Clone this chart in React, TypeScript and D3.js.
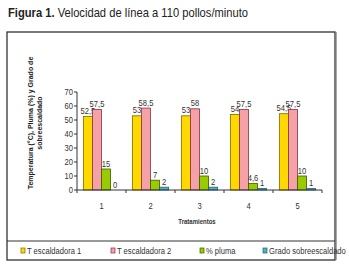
import React from "react";
import * as d3 from "d3";

const categories = ["1", "2", "3", "4", "5"];
const seriesNames = ["T escaldadora 1", "T escaldadora 2", "% pluma", "Grado sobreescaldado"];
const tEscaldadora1 = [52.5, 53, 53, 54, 54.5];
const tEscaldadora2 = [57.5, 58.5, 58, 57.5, 57.5];
const pluma = [15, 7, 10, 4.6, 10];
const gradoSobre = [0, 2, 2, 1, 1];
const yTicks = [0, 10, 20, 30, 40, 50, 60, 70];

const fills = ["#FFD800", "#F4A2A8", "#99CC00", "#4DB2C8"];
const strokes = ["#7A6A00", "#8A3040", "#3F5A00", "#20606E"];

const W = 349;
const H = 267;
const FONT = "'Liberation Sans Narrow', 'Arial Narrow', 'Liberation Sans', Arial, sans-serif";
const SX = 0.8;

function NText({ x, y, anchor = "start", size = 9, weight = "normal", children }: any) {
  return (
    <text
      transform={`translate(${x},${y}) scale(${SX},1)`}
      textAnchor={anchor}
      fontFamily={FONT}
      fontSize={size}
      fontWeight={weight}
      fill="#333"
    >
      {children}
    </text>
  );
}

export default function App() {
  const series = [tEscaldadora1, tEscaldadora2, pluma, gradoSobre];
  const x0 = 77, x1 = 322;
  const y0 = 190, yTop = 92;
  const x = d3.scaleBand<string>().domain(categories).range([x0, x1]);
  const inner = d3.scaleBand<number>().domain([0, 1, 2, 3]).range([0, x.bandwidth()]).paddingOuter(0.7).paddingInner(0);
  const y = d3.scaleLinear().domain([0, 70]).range([y0, yTop]);
  const fmt = (v: number) => String(v).replace(".", ",");

  return (
    <svg width={W} height={H} style={{ position: "absolute", left: 0, top: 0, background: "#fff" }}>
      <text transform="translate(8,17) scale(0.86,1)" fontFamily={FONT} fontSize={13} fill="#222">
        <tspan fontWeight="bold">Figura 1.</tspan>
        <tspan> Velocidad de línea a 110 pollos/minuto</tspan>
      </text>
      {/* frame */}
      <rect x={7} y={32} width={328} height={228} fill="none" stroke="#333" strokeWidth={1.3} />
      <line x1={7} x2={335} y1={241} y2={241} stroke="#333" strokeWidth={1} />
      <line x1={336.5} x2={336.5} y1={32} y2={260} stroke="#aaa" strokeWidth={1} />

      {/* y axis title */}
      <g transform="translate(36,123) rotate(-90)" fontFamily={FONT} fontSize={7} fontWeight="bold" fill="#222" textAnchor="middle">
        <text x={0} y={-3}>Temperatura (°C), Pluma (%) y Grado de</text>
        <text x={0} y={6}>sobreescaldado</text>
      </g>

      {/* bars */}
      {categories.map((c, i) => (
        <g key={c}>
          {series.map((s, j) => {
            const bx = (x(c) as number) + (inner(j) as number);
            const bw = inner.bandwidth();
            const v = s[i];
            return (
              <g key={j}>
                {v > 0 && (
                  <rect x={bx} y={y(v)} width={bw} height={y0 - y(v)} fill={fills[j]} stroke={strokes[j]} strokeWidth={0.8} />
                )}
                <NText x={bx + bw / 2} y={y(v) - 2.5} anchor="middle" size={9.5}>
                  {fmt(v)}
                </NText>
              </g>
            );
          })}
        </g>
      ))}

      {/* y axis */}
      <line x1={x0} x2={x0} y1={yTop} y2={y0} stroke="#333" strokeWidth={1} />
      {yTicks.map((t) => (
        <g key={t}>
          <line x1={x0 - 3} x2={x0} y1={y(t)} y2={y(t)} stroke="#333" />
          <NText x={x0 - 4} y={y(t) + 3.3} anchor="end" size={9.5}>{t}</NText>
        </g>
      ))}
      {/* x axis */}
      <line x1={x0} x2={x1} y1={y0} y2={y0} stroke="#333" strokeWidth={1} />
      {[...categories.map((c) => x(c) as number), x1].map((p, i) => (
        <line key={i} x1={p} x2={p} y1={y0} y2={y0 + 3} stroke="#333" />
      ))}
      {categories.map((c) => (
        <NText key={c} x={(x(c) as number) + x.bandwidth() / 2} y={209} anchor="middle" size={9.5}>{c}</NText>
      ))}
      <NText x={197} y={224} anchor="middle" size={7.5} weight="bold">Tratamientos</NText>

      {/* legend */}
      {seriesNames.map((n, j) => {
        const lx = [21, 111, 200, 263][j];
        return (
          <g key={n}>
            <rect x={lx} y={248} width={4} height={5} fill={fills[j]} stroke={strokes[j]} strokeWidth={0.7} />
            <NText x={lx + 6} y={254} size={9.5}>{n}</NText>
          </g>
        );
      })}
    </svg>
  );
}
